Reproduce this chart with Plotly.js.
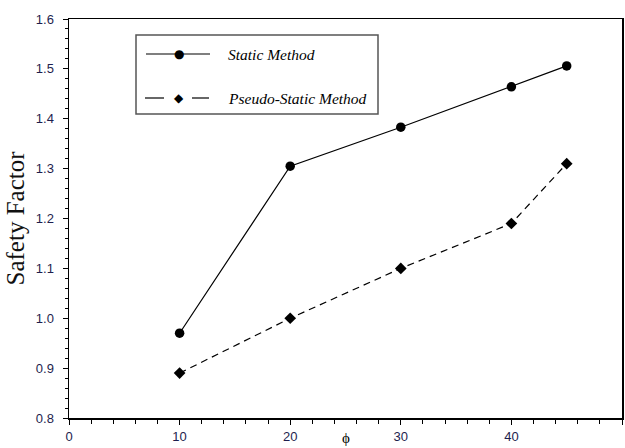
<!DOCTYPE html>
<html>
<head>
<meta charset="utf-8">
<script src="https://cdn.plot.ly/plotly-3.0.1.min.js"></script>
<style>html,body{margin:0;padding:0;background:#fff;}#chart{width:625px;height:448px;}</style>
</head>
<body>
<div id="chart"></div>
<script>
const phi = [10, 20, 30, 40, 45];
const staticMethod = [0.97, 1.305, 1.383, 1.464, 1.506];
const pseudoStaticMethod = [0.89, 1.0, 1.1, 1.19, 1.31];
const seriesNames = ["Static Method", "Pseudo-Static Method"];
const xTickVals = [0, 10, 20, 30, 40, 50];
const yTickVals = [0.8, 0.9, 1.0, 1.1, 1.2, 1.3, 1.4, 1.5, 1.6];

const L = 69, R = 622, T = 19, B = 418;
const px = x => (x - L) / (R - L);
const py = y => (B - y) / (B - T);

const traces = [
  {x: phi, y: staticMethod, name: seriesNames[0], type: 'scatter', mode: 'lines+markers',
   line: {color: '#000', width: 1.2}, marker: {symbol: 'circle', size: 9.5, color: '#000'},
   showlegend: false, cliponaxis: false},
  {x: phi, y: pseudoStaticMethod, name: seriesNames[1], type: 'scatter', mode: 'lines+markers',
   line: {color: '#000', width: 1.2, dash: '7px,5px'}, marker: {symbol: 'diamond', size: 9, color: '#000'},
   showlegend: false, cliponaxis: false}
];

const tickFont = {family: 'Liberation Sans, Arial, sans-serif', size: 13, color: '#1e1e4e'};
const legFont = {family: 'Liberation Serif, Times New Roman, serif', size: 15.5, color: '#000', style: 'italic'};

const shapes = [
  {type: 'rect', xref: 'paper', yref: 'paper', x0: px(136), x1: px(378), y0: py(35), y1: py(114),
   line: {color: '#555', width: 1.5}, fillcolor: 'rgba(0,0,0,0)'},
  {type: 'line', xref: 'paper', yref: 'paper', x0: px(146), x1: px(210), y0: py(54), y1: py(54),
   line: {color: '#000', width: 1.2}},
  {type: 'line', xref: 'paper', yref: 'paper', x0: px(145), x1: px(164), y0: py(98), y1: py(98),
   line: {color: '#000', width: 1.2}},
  {type: 'line', xref: 'paper', yref: 'paper', x0: px(192), x1: px(209), y0: py(98), y1: py(98),
   line: {color: '#000', width: 1.2}}
];

const annotations = [
  {xref: 'paper', yref: 'paper', x: px(178.5), y: py(54), text: '●', showarrow: false,
   font: {family: 'DejaVu Sans', size: 12, color: '#000'}, xanchor: 'center', yanchor: 'middle'},
  {xref: 'paper', yref: 'paper', x: px(178.5), y: py(98), text: '◆', showarrow: false,
   font: {family: 'DejaVu Sans', size: 12, color: '#000'}, xanchor: 'center', yanchor: 'middle'},
  {xref: 'paper', yref: 'paper', x: px(226), y: py(54), text: seriesNames[0], showarrow: false,
   font: legFont, xanchor: 'left', yanchor: 'middle'},
  {xref: 'paper', yref: 'paper', x: px(226), y: py(98), text: seriesNames[1], showarrow: false,
   font: legFont, xanchor: 'left', yanchor: 'middle'},
  {xref: 'paper', yref: 'paper', x: 0.5, y: py(448), text: 'ϕ', showarrow: false,
   font: {family: 'Liberation Serif, Times New Roman, serif', size: 15, color: '#000'},
   xanchor: 'center', yanchor: 'bottom', yshift: 0}
];

const layout = {
  width: 625, height: 448,
  margin: {l: L, r: 625 - R, t: T, b: 448 - B, pad: 0},
  paper_bgcolor: '#fff', plot_bgcolor: '#fff',
  showlegend: false,
  xaxis: {
    range: [0, 50], tickvals: xTickVals, ticktext: xTickVals.map(String),
    showgrid: false, zeroline: false, showline: true, mirror: true,
    linecolor: '#000', linewidth: 1.5, ticks: 'outside', ticklen: 5, tickwidth: 1, tickcolor: '#000',
    minor: {dtick: 2, ticks: 'outside', ticklen: 4, tickwidth: 1, tickcolor: '#000', showgrid: false},
    tickfont: tickFont, ticklabelstandoff: 1, fixedrange: true
  },
  yaxis: {
    range: [0.8, 1.6], tickvals: yTickVals, ticktext: yTickVals.map(v => v.toFixed(1)),
    showgrid: false, zeroline: false, showline: true, mirror: true,
    linecolor: '#000', linewidth: 1.5, ticks: 'outside', ticklen: 5, tickwidth: 1, tickcolor: '#000',
    minor: {dtick: 0.02, ticks: 'outside', ticklen: 3, tickwidth: 1, tickcolor: '#000', showgrid: false},
    tickfont: tickFont, ticklabelstandoff: 6,
    title: {text: 'Safety Factor', font: {family: 'Liberation Serif, Times New Roman, serif', size: 25, color: '#111'}, standoff: 4},
    fixedrange: true
  },
  shapes: shapes,
  annotations: annotations
};

Plotly.newPlot('chart', traces, layout, {displayModeBar: false, staticPlot: true});
</script>
</body>
</html>
